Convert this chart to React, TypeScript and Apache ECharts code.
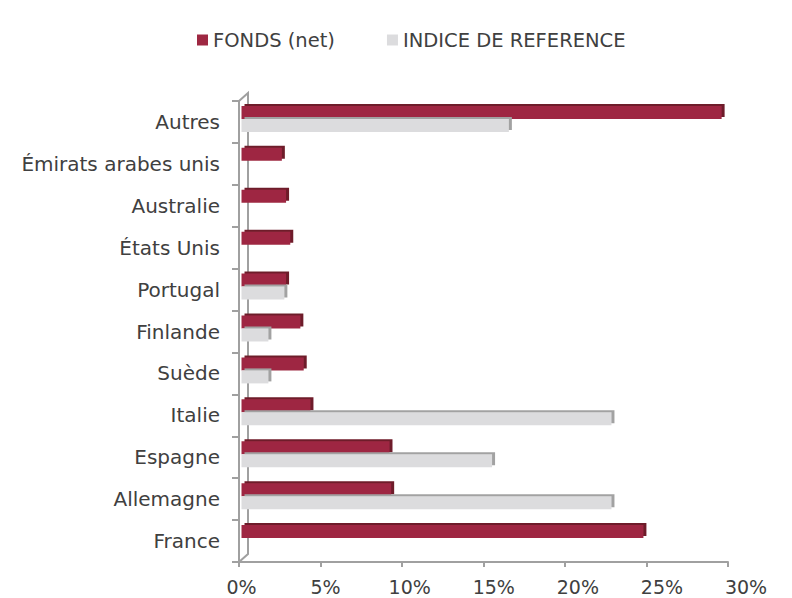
import React, { useEffect, useRef } from "react";
import * as echarts from "echarts";

const categories = [
  "France",
  "Allemagne",
  "Espagne",
  "Italie",
  "Suède",
  "Finlande",
  "Portugal",
  "États Unis",
  "Australie",
  "Émirats arabes unis",
  "Autres",
];
const fondsValues = [23.9, 8.9, 8.8, 4.1, 3.7, 3.5, 2.65, 2.9, 2.65, 2.4, 28.55];
const indiceValues = [0, 22.0, 14.9, 22.0, 1.6, 1.6, 2.55, 0, 0, 0, 15.9];
const seriesNames = ["FONDS (net)", "INDICE DE REFERENCE"];
const xTicks = [0, 5, 10, 15, 20, 25, 30];

const FONT = "'DejaVu Sans', sans-serif";
const TEXT = "#404040";
const AXIS = "#a0a0a0";

export default function App() {
  const ref = useRef<HTMLDivElement>(null);
  useEffect(() => {
    if (!ref.current) return;
    const chart = echarts.init(ref.current, null, { renderer: "svg" });
    chart.setOption({
      animation: false,
      textStyle: { fontFamily: FONT },
      legend: {
        data: seriesNames,
        top: 25,
        left: 192,
        itemWidth: 11,
        itemHeight: 11,
        itemGap: 52,
        icon: "rect",
        textStyle: { fontSize: 19.5, color: TEXT, fontFamily: FONT },
      },
      grid: [
        { left: 241.5, right: 46, top: 98, bottom: 39, containLabel: false },
        { left: 239, right: 64, top: 101, bottom: 36, containLabel: false },
      ],
      xAxis: [
        {
          type: "value",
          gridIndex: 0,
          min: xTicks[0],
          max: xTicks[xTicks.length - 1],
          interval: 5,
          axisLine: { show: false },
          axisTick: { show: false },
          splitLine: { show: false },
          axisLabel: {
            formatter: "{value}%",
            fontSize: 19,
            color: TEXT,
            margin: 18,
            fontFamily: FONT,
          },
        },
        {
          type: "value",
          gridIndex: 1,
          min: xTicks[0],
          max: xTicks[xTicks.length - 1],
          interval: 5,
          axisLine: { show: true, lineStyle: { color: AXIS, width: 2 } },
          axisTick: { show: true, length: 5, lineStyle: { color: AXIS, width: 2 } },
          axisLabel: { show: false },
          splitLine: { show: false },
        },
      ],
      yAxis: [
        {
          type: "category",
          gridIndex: 0,
          data: categories,
          show: false,
        },
        {
          type: "category",
          gridIndex: 1,
          data: categories,
          axisLine: { show: true, lineStyle: { color: AXIS, width: 2 } },
          axisTick: { show: true, length: 7, lineStyle: { color: AXIS, width: 2 } },
          axisLabel: {
            fontSize: 20,
            color: TEXT,
            margin: 19,
            padding: [4, 0, 0, 0],
            fontFamily: FONT,
          },
        },
      ],
      graphic: [
        {
          type: "polyline",
          z: 1,
          silent: true,
          shape: { points: [[239, 101], [248, 93], [248, 554], [239, 562]] },
          style: { stroke: AXIS, lineWidth: 2, fill: null },
        },
      ],
      series: [
        {
          name: seriesNames[0],
          type: "bar",
          xAxisIndex: 0,
          yAxisIndex: 0,
          data: fondsValues,
          barWidth: 13,
          barGap: "0%",
          z: 3,
          itemStyle: {
            color: "#9e2842",
            shadowColor: "#6e1a2c",
            shadowOffsetX: 3,
            shadowOffsetY: -2,
            shadowBlur: 0,
          },
        },
        {
          name: seriesNames[1],
          type: "bar",
          xAxisIndex: 0,
          yAxisIndex: 0,
          data: indiceValues,
          barWidth: 13,
          barGap: "0%",
          z: 3,
          itemStyle: {
            color: "#dcdcde",
            shadowColor: "#a2a2a2",
            shadowOffsetX: 3,
            shadowOffsetY: -2,
            shadowBlur: 0,
          },
        },
      ],
    });
    return () => chart.dispose();
  }, []);
  return (
    <div
      ref={ref}
      style={{ position: "absolute", left: 0, top: 0, width: 792, height: 598 }}
    />
  );
}
